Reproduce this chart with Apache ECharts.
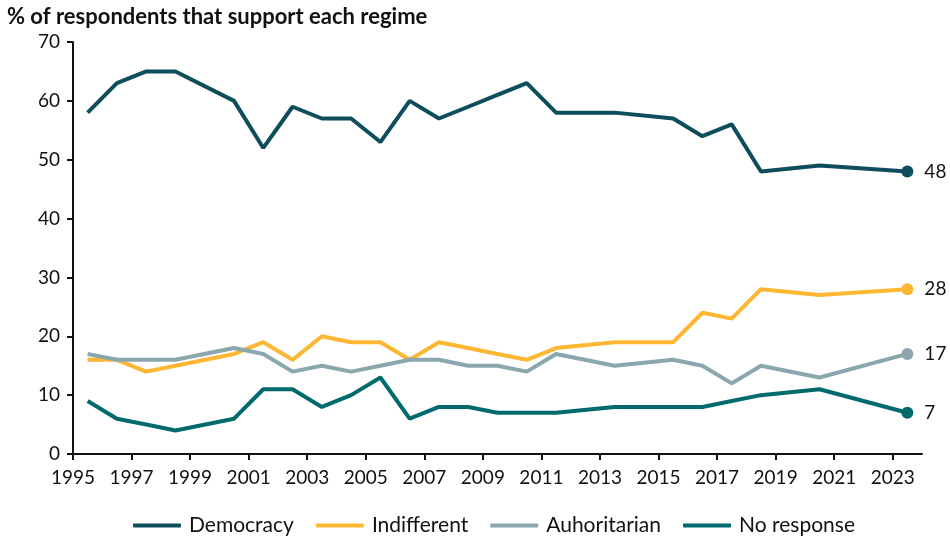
<!DOCTYPE html>
<html>
<head>
<meta charset="utf-8">
<style>
  html, body { margin: 0; padding: 0; background: #ffffff; }
  #chart { width: 950px; height: 537px; }
</style>
<script src="https://cdn.jsdelivr.net/npm/echarts@6/dist/echarts.min.js"></script>
</head>
<body>
<div id="chart"></div>
<script>
// Survey waves, plotted mid-year
const years = [1995, 1996, 1997, 1998, 2000, 2001, 2002, 2003, 2004, 2005, 2006, 2007,
               2008, 2009, 2010, 2011, 2013, 2015, 2016, 2017, 2018, 2020, 2023];

const democracy     = [58, 63, 65, 65, 60, 52, 59, 57, 57, 53, 60, 57, 59, 61, 63, 58, 58, 57, 54, 56, 48, 49, 48];
const indifferent   = [16, 16, 14, 15, 17, 19, 16, 20, 19, 19, 16, 19, 18, 17, 16, 18, 19, 19, 24, 23, 28, 27, 28];
const authoritarian = [17, 16, 16, 16, 18, 17, 14, 15, 14, 15, 16, 16, 15, 15, 14, 17, 15, 16, 15, 12, 15, 13, 17];
const noResponse    = [9, 6, 5, 4, 6, 11, 11, 8, 10, 13, 6, 8, 8, 7, 7, 7, 8, 8, 8, 9, 10, 11, 7];

const xTicks = [1995, 1997, 1999, 2001, 2003, 2005, 2007, 2009, 2011, 2013, 2015, 2017, 2019, 2021, 2023];

const seriesDefs = [
  { name: 'Democracy',     values: democracy,     color: '#0e4d5b' },
  { name: 'Indifferent',   values: indifferent,   color: '#fdb733' },
  { name: 'Auhoritarian',  values: authoritarian, color: '#89a7ad' },
  { name: 'No response',   values: noResponse,    color: '#006a6d' }
];

const FONT = 'Lato';

function buildData(values) {
  return values.map(function (v, i) {
    const point = [years[i] + 0.5, v];
    if (i === values.length - 1) {
      return {
        value: point,
        symbol: 'circle',
        symbolSize: 12,
        label: {
          show: true,
          position: 'right',
          distance: 11,
          formatter: String(v),
          color: '#111111',
          fontFamily: FONT,
          fontSize: 19
        }
      };
    }
    return { value: point };
  });
}

const chart = echarts.init(document.getElementById('chart'), null, { renderer: 'canvas' });

chart.setOption({
  animation: false,
  backgroundColor: '#ffffff',
  title: {
    text: '% of respondents that support each regime',
    left: 2,
    top: 1,
    textStyle: { fontFamily: FONT, fontWeight: 'bold', fontSize: 22, color: '#111111' }
  },
  grid: { left: 73, right: 28, top: 42, bottom: 83, containLabel: false },
  legend: {
    top: 510,
    left: 128,
    itemWidth: 48,
    itemHeight: 4,
    itemGap: 22,
    icon: 'roundRect',
    textStyle: { fontFamily: FONT, fontSize: 21, color: '#111111', padding: [0, 0, 0, 3] },
    data: seriesDefs.map(function (s) { return s.name; })
  },
  xAxis: {
    type: 'value',
    min: 1995,
    max: 2024,
    interval: 1,
    splitLine: { show: false },
    axisLine: { show: true, lineStyle: { color: '#111111', width: 2 } },
    axisTick: { show: true, length: 6, lineStyle: { color: '#111111', width: 2 }, customValues: xTicks },
    axisLabel: {
      color: '#111111', fontFamily: FONT, fontSize: 19, margin: 14,
      customValues: xTicks,
      formatter: function (v) { return String(v); }
    }
  },
  yAxis: {
    type: 'value',
    min: 0,
    max: 70,
    interval: 10,
    splitLine: { show: false },
    axisLine: { show: true, lineStyle: { color: '#111111', width: 2 } },
    axisTick: { show: true, length: 6, lineStyle: { color: '#111111', width: 2 } },
    axisLabel: { color: '#111111', fontFamily: FONT, fontSize: 19, margin: 13 }
  },
  series: seriesDefs.map(function (s) {
    return {
      name: s.name,
      type: 'line',
      symbol: 'none',
      showSymbol: true,
      color: s.color,
      lineStyle: { color: s.color, width: 4 },
      itemStyle: { color: s.color },
      emphasis: { disabled: true },
      data: buildData(s.values)
    };
  })
});
</script>
</body>
</html>
